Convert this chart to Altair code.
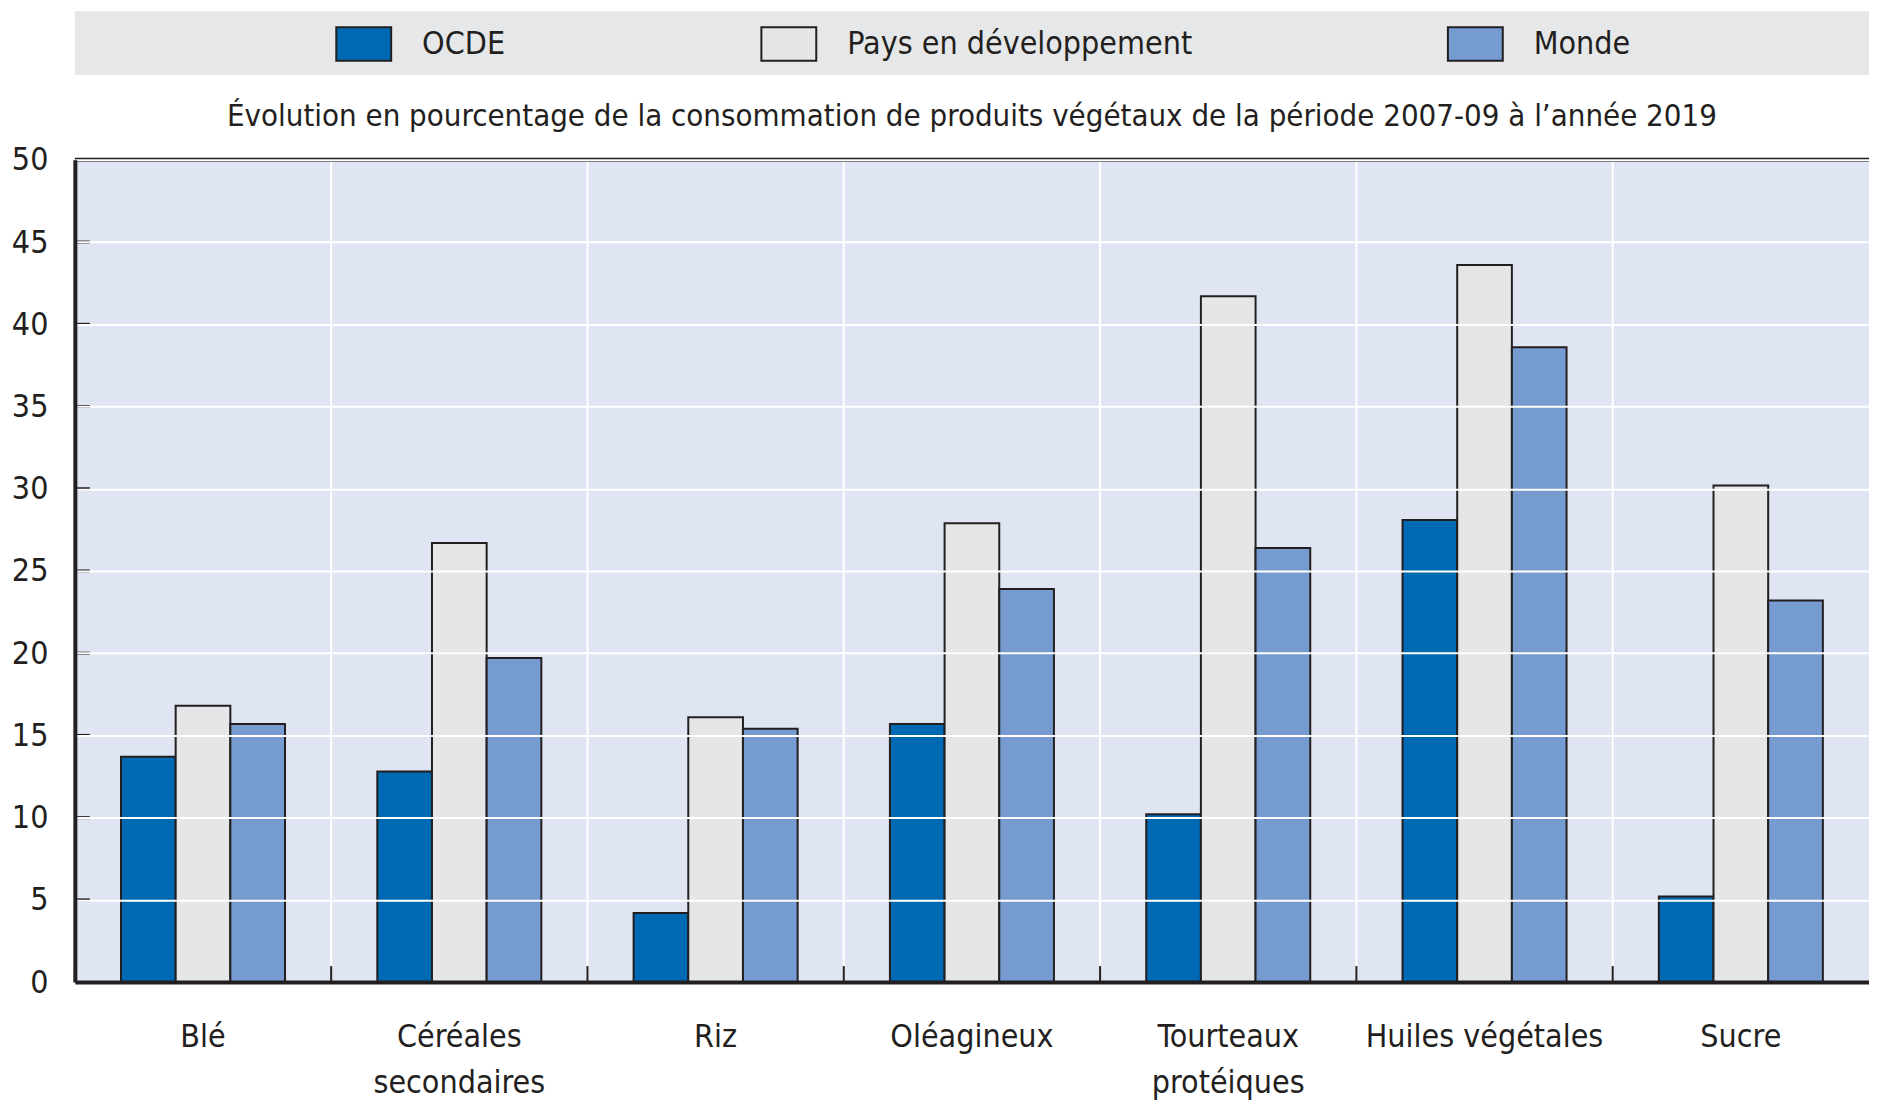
import altair as alt
import pandas as pd

# ---- data ----
categories = ["Blé", "Céréales\nsecondaires", "Riz", "Oléagineux",
              "Tourteaux\nprotéiques", "Huiles végétales", "Sucre"]
series = ["OCDE", "Pays en développement", "Monde"]
ocde = [13.7, 12.8, 4.2, 15.7, 10.2, 28.1, 5.2]
pays_dev = [16.8, 26.7, 16.1, 27.9, 41.7, 43.6, 30.2]
monde = [15.7, 19.7, 15.4, 23.9, 26.4, 38.6, 23.2]
y_ticks = [0, 5, 10, 15, 20, 25, 30, 35, 40, 45, 50]
title_text = "Évolution en pourcentage de la consommation de produits végétaux de la période 2007-09 à l’année 2019"

colors = ["#0069b4", "#e5e6e8", "#769bd0"]
INK = "#231f20"
FONT = "DejaVu Sans Condensed, DejaVu Sans, sans-serif"

W, H = 1798, 824

rows = []
for s, vals in zip(series, [ocde, pays_dev, monde]):
    for c, v in zip(categories, vals):
        rows.append({"cat": c, "series": s, "value": v})
df = pd.DataFrame(rows)
cat_df = pd.DataFrame({"cat": categories})
tick_df = pd.DataFrame({"value": y_ticks[1:-1]})

xscale = alt.Scale(domain=categories, paddingInner=0, paddingOuter=0)
yscale = alt.Scale(domain=[0, 50], nice=False)

x_axis = alt.Axis(labelExpr="split(datum.label, '\\n')", labelAngle=0,
                  labelFontSize=32, labelLineHeight=46, labelPadding=40,
                  labelLimit=500, tickSize=0, domainWidth=4, domainColor=INK,
                  grid=False, labelColor=INK, labelFont=FONT, zindex=1)
y_axis = alt.Axis(values=y_ticks, tickSize=0, labelPadding=27,
                  labelFontSize=32, labelColor=INK, labelFont=FONT,
                  domainWidth=4, domainColor=INK, grid=True,
                  gridColor="white", gridWidth=2, zindex=1)

# vertical white grid lines at category boundaries
vgrid = alt.Chart(cat_df).mark_rule(color="white", strokeWidth=2).encode(
    x=alt.X("cat:N", scale=xscale, bandPosition=0, title=None, axis=x_axis)
)

bars = alt.Chart(df).mark_bar(stroke=INK, strokeWidth=2, opacity=1).encode(
    x=alt.X("cat:N", scale=xscale, title=None, axis=x_axis),
    xOffset=alt.XOffset("series:N", sort=series,
                        scale=alt.Scale(paddingInner=0, paddingOuter=0.844)),
    y=alt.Y("value:Q", scale=yscale, title=None, axis=y_axis),
    color=alt.Color("series:N", sort=series,
                    scale=alt.Scale(domain=series, range=colors),
                    legend=alt.Legend(orient="none", legendX=261, legendY=-145,
                                      direction="horizontal", title=None,
                                      columnPadding=252, labelFontSize=32,
                                      labelFont=FONT, labelColor=INK,
                                      labelOffset=30, labelLimit=1000,
                                      symbolType="M-1,-0.61H1V0.61H-1Z",
                                      symbolSize=3025, symbolStrokeColor=INK,
                                      symbolStrokeWidth=2, symbolOpacity=1)),
)

# inward ticks on the y axis
yticks = alt.Chart(tick_df).mark_rule(color=INK, strokeWidth=3).encode(
    y=alt.Y("value:Q", scale=yscale, title=None, axis=y_axis),
    x=alt.value(0), x2=alt.value(15),
)

# inward ticks on the x axis at category boundaries
xticks = alt.Chart(cat_df).mark_rule(color=INK, strokeWidth=2).encode(
    x=alt.X("cat:N", scale=xscale, bandPosition=0, title=None, axis=x_axis),
    y=alt.value(H - 16), y2=alt.value(H),
)

# top frame line at 50
top_df = pd.DataFrame({"value": [50]})
top_line = alt.Chart(top_df).mark_rule(color=INK, strokeWidth=4).encode(
    y=alt.Y("value:Q", scale=yscale, title=None, axis=y_axis)
)

# grey band behind the legend
band = alt.Chart(top_df).mark_rect(color="#e6e7e9").encode(
    x=alt.value(0), x2=alt.value(W), y=alt.value(-149), y2=alt.value(-85)
)

chart = alt.layer(band, vgrid, bars, yticks, xticks, top_line).properties(
    width=W, height=H,
    padding={"left": 67, "top": 151, "right": 0, "bottom": 118},
    autosize=alt.AutoSizeParams(type="none"),
    title=alt.TitleParams(title_text, anchor="middle", orient="top", frame="group",
                          offset=0, dy=146, baseline="alphabetic", fontSize=31,
                          font=FONT, fontWeight="normal", color=INK),
).configure_view(fill="#dfe5f2", stroke=None)

chart.save("out.html", embed_options={"renderer": "svg", "actions": False})
